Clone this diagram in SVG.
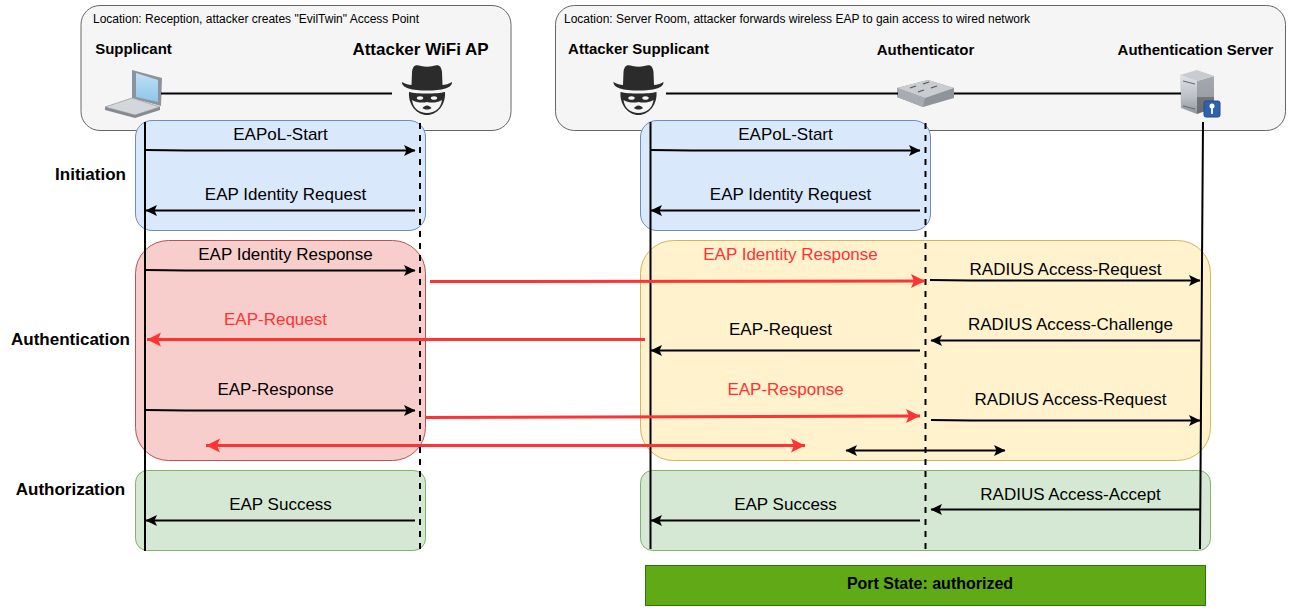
<svg xmlns="http://www.w3.org/2000/svg" width="1291" height="612" viewBox="0 0 1291 612">
<style>
text{font-family:"Liberation Sans",Arial,sans-serif;fill:#000}
.lbl{font-size:17px;text-anchor:middle}
.red{fill:#ff3333}
.hdr{font-size:15px;font-weight:bold;text-anchor:middle}
.phase{font-size:17px;font-weight:bold;text-anchor:middle}
.loc{font-size:12px}
.box{stroke-width:1}
.m{fill:none;stroke:#000;stroke-width:2}
.r{fill:none;stroke:#ff3333;stroke-width:3}
.life{fill:none;stroke:#000;stroke-width:2}
.dash{fill:none;stroke:#000;stroke-width:2;stroke-dasharray:6 6}
</style>
<defs>
<marker id="a" markerUnits="userSpaceOnUse" markerWidth="12" markerHeight="12" refX="11" refY="5.500" orient="auto-start-reverse" overflow="visible"><path d="M0 0L11.500 5.500L0 11L2.500 5.500Z" fill="#000"/></marker>
<marker id="ar" markerUnits="userSpaceOnUse" markerWidth="16" markerHeight="16" refX="14" refY="7" orient="auto-start-reverse" overflow="visible"><path d="M0 0L14 7L0 14L3 7Z" fill="#ff3333"/></marker>
<linearGradient id="srvL" x1="0" y1="0" x2="0" y2="1"><stop offset="0" stop-color="#dfe2e6"/><stop offset="0.6" stop-color="#b9bdc3"/><stop offset="1" stop-color="#8f949b"/></linearGradient>
<linearGradient id="srvR" x1="0" y1="0" x2="0" y2="1"><stop offset="0" stop-color="#a6aab0"/><stop offset="0.55" stop-color="#9a9ea5"/><stop offset="0.56" stop-color="#71767d"/><stop offset="1" stop-color="#666b72"/></linearGradient>
<linearGradient id="scr" x1="0" y1="0" x2="0" y2="1"><stop offset="0" stop-color="#bfe0f5"/><stop offset="1" stop-color="#8cc6e8"/></linearGradient>
<g id="spy">
<path d="M-25 -8C-22 -6 -18 -5 -15.500 -5L-15 -18C-14 -26 -10 -25 -6 -24C-2 -23 2 -23 6 -24C10 -25 14 -26 15 -18L15.500 -5C18 -5 22 -6 25 -8C25.500 -2 15 0.500 0 0.500C-15 0.500 -25.500 -2 -25 -8Z" fill="#2b2b2b"/>
<path d="M-18 2C-10 4 10 4 18 2C19 15 10 25 0 25C-10 25 -19 15 -18 2Z" fill="#2b2b2b"/>
<path d="M-15 10C-10 13 -4 13 0 12C4 13 10 13 15 10C14 18 8 23 0 23C-8 23 -14 18 -15 10Z" fill="#f5f5f5"/>
<ellipse cx="-7" cy="8" rx="3.200" ry="1.800" fill="#f5f5f5"/><ellipse cx="7" cy="8" rx="3.200" ry="1.800" fill="#f5f5f5"/>
<path d="M-4.500 18C-2 14.500 2 14.500 4.500 18C2 20 -2 20 -4.500 18Z" fill="#2b2b2b"/>
</g>
</defs>

<g id="location-reception"><rect class="box" x="81" y="5.500" width="430" height="125" rx="19" fill="#f5f5f5" stroke="#666"/><text class="loc" x="93" y="23">Location: Reception, attacker creates "EvilTwin" Access Point</text></g>
<g id="location-server-room"><rect class="box" x="555.500" y="5.500" width="730" height="125" rx="19" fill="#f5f5f5" stroke="#666"/><text class="loc" x="564" y="23">Location: Server Room, attacker forwards wireless EAP to gain access to wired network</text></g>

<g id="zone-initiation-left"><rect class="box" x="135.500" y="120.500" width="290" height="110" rx="16.500" fill="#dae8fc" stroke="#6c8ebf"/></g>
<g id="zone-initiation-right"><rect class="box" x="640.500" y="120.500" width="290" height="110" rx="16.500" fill="#dae8fc" stroke="#6c8ebf"/></g>
<g id="zone-authentication-left"><rect class="box" x="135.500" y="240.500" width="290" height="220" rx="33" fill="#f8cecc" stroke="#b85450"/></g>
<g id="zone-authentication-right"><rect class="box" x="640.500" y="240.500" width="570" height="220" rx="33" fill="#fff2cc" stroke="#d6b656"/></g>
<g id="zone-authorization-left"><rect class="box" x="135.500" y="470.500" width="290" height="80" rx="12" fill="#d5e8d4" stroke="#82b366"/></g>
<g id="zone-authorization-right"><rect class="box" x="640.500" y="470.500" width="570" height="80" rx="12" fill="#d5e8d4" stroke="#82b366"/></g>

<g id="supplicant">
<text class="hdr" x="133.500" y="54">Supplicant</text>
<path d="M132 70L162 78L161 106L132 98Z" fill="#8d939b"/>
<path d="M136 73L158 80L158 102L136 97Z" fill="url(#scr)"/>
<path d="M105 107L132 98L160 107L135 115Z" fill="#d3d6da" stroke="#9ca1a8" stroke-width="0.800"/>
<path d="M105 107L135 115L135 118L105 110ZM135 115L160 107L160 110L135 118Z" fill="#858a91"/>
</g>
<g id="attacker-wifi-ap"><text x="420.500" y="55" style="font-size:17px;font-weight:bold;text-anchor:middle">Attacker WiFi AP</text><use href="#spy" x="427" y="90"/></g>
<g id="attacker-supplicant"><text class="hdr" x="638.500" y="54">Attacker Supplicant</text><use href="#spy" x="638.500" y="90"/></g>
<g id="authenticator">
<text class="hdr" x="925.500" y="55">Authenticator</text>
<path d="M897 88L928 80L954 88L954 98L923 107L897 97Z" fill="#8f949b"/>
<path d="M897 88L928 80L954 88L925 98Z" fill="#c9cdd2"/>
<path d="M897 88L925 98L923 107L897 97Z" fill="#a8acb2"/>
<path d="M910 88l6 -2M923 84l6 -2M918 92l6 -2M931 88l6 -2" stroke="#555" stroke-width="1.300"/>
</g>
<g id="authentication-server">
<text class="hdr" x="1195.500" y="55">Authentication Server</text>
<path d="M1197 81L1214 76L1214 108L1197 114Z" fill="url(#srvR)"/>
<path d="M1180 75L1197 81L1197 114L1181 108Z" fill="url(#srvL)"/>
<path d="M1180 75L1197 70L1214 76L1197 81Z" fill="#c8cbd0"/>
<path d="M1183 81l12 3M1183 106l12 3" stroke="#666" stroke-width="1"/>
<rect x="1204" y="101" width="16" height="16" rx="2" fill="#2f62ad" stroke="#214a8a" stroke-width="1"/>
<circle cx="1212" cy="106" r="2.500" fill="#fff"/><path d="M1212 107V114" stroke="#fff" stroke-width="1.800"/>
</g>

<g id="connectors">
<path class="life" d="M161 93.500H392M666 93.500H898M954 93.500H1181"/>
<path class="life" d="M145 122V551M650.500 122V549M1203 122L1200 549"/>
<path class="dash" d="M420 123V550M925.500 123V549"/>
<g>
<path class="m" marker-end="url(#a)" d="M146 150L186 150.500L415 150.500"/>
<path class="m" marker-end="url(#a)" d="M415 210.500H146"/>
<path class="m" marker-end="url(#a)" d="M146 270L186 270.500L415 270.500"/>
<path class="m" marker-end="url(#a)" d="M146 410L186 410.500L415 410.500"/>
<path class="m" marker-end="url(#a)" d="M415 520.500H146"/>
<path class="m" marker-end="url(#a)" d="M651 150L691 150.500L920 150.500"/>
<path class="m" marker-end="url(#a)" d="M920 210.500H651"/>
<path class="m" marker-end="url(#a)" d="M930 280L970 280.500L1200 280.500"/>
<path class="m" marker-end="url(#a)" d="M1200 340.500H931"/>
<path class="m" marker-end="url(#a)" d="M920 350.500H651"/>
<path class="m" marker-end="url(#a)" d="M931 420L971 420.500L1200 420.500"/>
<path class="m" marker-start="url(#a)" marker-end="url(#a)" d="M846 450.500H1005"/>
<path class="m" marker-end="url(#a)" d="M1200 509.500H931"/>
<path class="m" marker-end="url(#a)" d="M920 520.500H651"/>
</g>
<g>
<path class="r" marker-end="url(#ar)" d="M430 281.500L925 281"/>
<path class="r" marker-end="url(#ar)" d="M645 339.500H147"/>
<path class="r" marker-end="url(#ar)" d="M425 417.500L920 416"/>
<path class="r" marker-start="url(#ar)" marker-end="url(#ar)" d="M206 445.500H805"/>
</g>
</g>

<g id="labels">
<text class="lbl" x="280.500" y="140">EAPoL-Start</text>
<text class="lbl" x="285.500" y="200">EAP Identity Request</text>
<text class="lbl" x="285.500" y="260">EAP Identity Response</text>
<text class="lbl red" x="275.500" y="325">EAP-Request</text>
<text class="lbl" x="275.500" y="395">EAP-Response</text>
<text class="lbl" x="280.500" y="510">EAP Success</text>
<text class="lbl" x="785.500" y="140">EAPoL-Start</text>
<text class="lbl" x="790.500" y="200">EAP Identity Request</text>
<text class="lbl red" x="790.500" y="260">EAP Identity Response</text>
<text class="lbl" x="780.500" y="335">EAP-Request</text>
<text class="lbl red" x="785.500" y="395">EAP-Response</text>
<text class="lbl" x="785.500" y="510">EAP Success</text>
<text class="lbl" x="1065.500" y="275">RADIUS Access-Request</text>
<text class="lbl" x="1070.500" y="330">RADIUS Access-Challenge</text>
<text class="lbl" x="1070.500" y="405">RADIUS Access-Request</text>
<text class="lbl" x="1070.500" y="500">RADIUS Access-Accept</text>
<text class="phase" x="90.500" y="180">Initiation</text>
<text class="phase" x="70.500" y="345">Authentication</text>
<text class="phase" x="70.500" y="495">Authorization</text>
</g>

<g id="port-state"><rect x="645.500" y="565.500" width="560" height="40" fill="#60a917" stroke="#2d7600"/><text x="930" y="589" style="font-size:16px;font-weight:bold;text-anchor:middle">Port State: authorized</text></g>
</svg>
